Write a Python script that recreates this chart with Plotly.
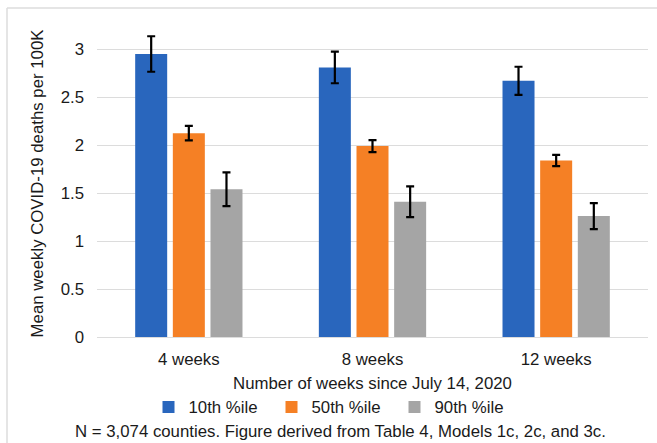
import plotly.graph_objects as go

categories = ["4 weeks", "8 weeks", "12 weeks"]
series_names = ["10th %ile", "50th %ile", "90th %ile"]
p10_values = [2.95, 2.81, 2.67]
p10_errors = [0.185, 0.165, 0.147]
p50_values = [2.125, 1.99, 1.84]
p50_errors = [0.075, 0.062, 0.058]
p90_values = [1.54, 1.41, 1.26]
p90_errors = [0.175, 0.16, 0.135]
y_ticks = [0, 0.5, 1, 1.5, 2, 2.5, 3]
y_tick_labels = ["0", "0.5", "1", "1.5", "2", "2.5", "3"]

colors = ["#2966BD", "#F58025", "#A5A5A5"]
FONT = "Liberation Sans, Arial, Helvetica, sans-serif"
FS = 16.8

fig = go.Figure()
for name, vals, errs, col in zip(series_names,
                                 [p10_values, p50_values, p90_values],
                                 [p10_errors, p50_errors, p90_errors],
                                 colors):
    fig.add_trace(go.Bar(
        x=categories, y=vals, name=name,
        marker=dict(color=col, line=dict(width=0)),
        error_y=dict(type="data", array=errs, visible=True,
                     color="#000000", thickness=2.2, width=4),
    ))

L, R, T, B = 97, 9, 30, 106
W, H = 657, 443
pw, ph = W - L - R, H - T - B

def px(x):
    return (x - L) / pw

def py(y):
    return (H - B - y) / ph

fig.update_layout(
    width=W, height=H,
    margin=dict(l=L, r=R, t=T, b=B, autoexpand=False),
    paper_bgcolor="white", plot_bgcolor="white",
    font=dict(family=FONT, size=FS, color="#1a1a1a"),
    barmode="group", bargap=0.385, bargroupgap=0.15,
    showlegend=True,
    legend=dict(orientation="h", x=px(333), y=py(407), xanchor="center",
                yanchor="middle", font=dict(size=FS), entrywidth=78,
                entrywidthmode="pixels", bgcolor="rgba(0,0,0,0)",
                itemclick=False, itemdoubleclick=False),
    xaxis=dict(showgrid=False, showline=False, ticks="", zeroline=False,
               ticklabelstandoff=10,
               title=dict(text="Number of weeks since July 14, 2020",
                          standoff=9, font=dict(size=FS))),
    yaxis=dict(range=[0, 3.2], tickvals=y_ticks, ticktext=y_tick_labels,
               showgrid=True, gridcolor="#DCDCDC", gridwidth=1,
               zeroline=True, zerolinecolor="#DCDCDC", zerolinewidth=1,
               showline=False, ticks="", ticklabelstandoff=12,
               title=dict(text="Mean weekly COVID-19 deaths per 100K",
                          standoff=12, font=dict(size=FS))),
    shapes=[
        dict(type="line", xref="paper", yref="paper",
             x0=px(7), x1=px(657), y0=py(8), y1=py(8),
             line=dict(color="#DDDDDD", width=1.5)),
        dict(type="line", xref="paper", yref="paper",
             x0=px(7), x1=px(7), y0=py(8), y1=py(443),
             line=dict(color="#DDDDDD", width=1.5)),
    ],
    annotations=[
        dict(text="N = 3,074 counties. Figure derived from Table 4, Models 1c, 2c, and 3c.",
             xref="paper", yref="paper", x=px(340), y=py(431),
             xanchor="center", yanchor="middle", showarrow=False,
             font=dict(size=FS, color="#1a1a1a")),
    ],
)

fig.write_html("out.html", config={"displayModeBar": False},
               post_script="document.body.style.margin='0';document.body.style.padding='0';")
